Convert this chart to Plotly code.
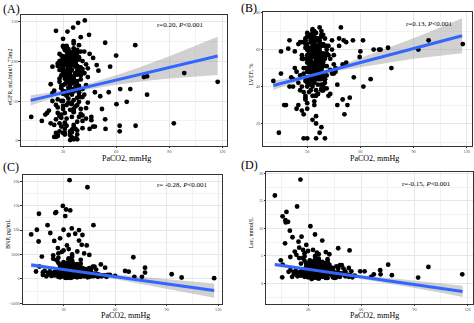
import plotly.graph_objects as go

# ---------------- DATA ----------------
# Panel A: eGFR vs PaCO2
a_x = [31,34,28,37,33,29,40,35,32,38,26,36,30,41,33,27,39,34,31,44,
       35,30,38,33,29,42,36,32,27,39,34,31,37,25,40,33,35,28,43,36,
       32,38,30,34,41,29,36,33,39,31,35,27,37,45,32,34,30,38,28,36,
       33,40,31,35,29,37,34,24,39,32,36,30,42,33,38,35,31,27,34,46,
       37,32,35,30,39,34,28,36,33,41,31,38,35,29,22,37,33,40,32,36,
       34,29,38,31,36,43,33,30,35,39,32,27,37,34,31,40,36,33,28,35,
       38,33,30,36,32,41,34,29,37,35,31,39,26,33,36,30,44,34,38,32,
       35,31,37,34,28,40,33,36,30,38,32,35,29,47,34,31,37,33,39,36,
       30,36,33,39,34,31,37,23,35,32,38,34,30,41,36,33,29,35,37,31,
       34,38,32,36,29,40,33,35,31,37,27,34,39,32,36,30,42,33,35,48,
       21,25,26,28,43,45,24,46,27,44,29,42,23,41,25,47,30,43,26,40,
       30,33,36,39,31,34,37,40,32,35,38,29,33,36,39,31,34,37,41,35,
       30,33,36,38,32,35,28,34,37,40,31,36,33,39,35,30,38,34,32,37,
       29,36,33,40,35,31,38,34,36,32,37,30,35,39,33,34,36,31,38,35,
       12,26,32.5,35.7,38.5,42.3,44.7,53.8,60,56.6,70.8,75.7,77.5,77.5,62.3,68,66,60.2,55.8,53.8,
       62,62,71,92.6,98.5,117.4,54,51,49,50,48,52,24,20,18]
a_y = [95,12,78,105,60,33,88,110,45,70,5,98,118,25,84,52,102,66,8,91,
       108,40,75,99,18,85,113,57,94,30,72,104,3,63,89,115,48,22,96,80,
       101,68,10,92,55,107,37,86,120,15,77,97,43,109,28,83,62,2,100,74,
       90,112,35,81,50,103,7,93,65,116,20,87,58,106,13,95,71,42,99,26,
       84,117,46,102,61,9,89,73,110,32,97,54,4,82,38,105,67,92,19,111,
       76,96,24,88,125,41,103,59,14,91,79,6,108,47,86,130,64,98,31,72,
       114,53,94,17,83,100,39,69,106,11,87,60,27,97,122,44,80,1,93,57,
       102,21,85,66,109,34,90,51,119,8,74,96,29,104,62,88,15,100,49,78,
       92,36,113,56,81,23,98,71,4,107,45,86,128,16,95,63,101,30,84,10,
       99,68,118,40,91,55,107,13,82,94,35,76,103,58,2,89,112,48,97,61,
       35,20,45,12,70,15,60,30,8,48,100,85,22,65,5,18,50,28,10,40,
       70,85,100,92,78,108,95,82,112,65,88,98,76,104,86,115,72,99,90,80,
       106,94,62,110,84,96,74,102,68,87,114,79,91,105,58,97,83,70,119,93,
       66,101,88,77,109,62,94,81,116,73,98,86,103,69,92,111,75,100,64,89,
       30,138,137,142,148,151,133,123,107,93,120,80,81,58,65,65,49,46,61,27,
       19,12,19,22,85,74,15,56,95,88,18,40,50,33,25]
a_band_x = [11.7, 18, 25, 35, 45, 60, 75, 90, 105, 117.4]
a_fit = [50.8, 54.1, 57.8, 63.1, 68.4, 76.3, 84.2, 92.1, 100.0, 106.5]
a_lo = [44.3, 49.0, 54.3, 60.1, 64.8, 70.3, 74.8, 78.1, 80.8, 82.5]
a_hi = [57.3, 59.2, 61.3, 66.1, 72.0, 82.3, 93.6, 106.1, 119.2, 130.5]

# Panel B: LVEF vs PaCO2
b_x = [30,34,27,38,32,29,41,35,31,37,25,36,33,40,28,34,39,31,44,36,
       33,29,37,32,42,35,30,38,27,34,31,39,36,23,33,40,29,35,32,47,
       36,31,34,28,39,33,37,30,41,35,32,26,38,34,30,43,36,33,29,37,
       32,38,35,30,36,27,40,33,31,37,34,45,29,35,38,32,36,24,33,39,
       35,30,37,33,28,41,34,31,36,32,39,29,35,38,33,49,30,36,34,27,
       37,33,31,39,35,29,36,32,42,34,30,38,33,26,35,37,31,40,34,36,
       31,36,34,29,38,33,35,30,37,32,44,34,28,36,39,33,31,35,38,30,
       34,37,32,40,30,35,33,28,38,36,31,34,39,25,33,37,35,32,46,36,
       29,35,38,33,31,36,34,41,30,37,32,35,27,39,33,36,31,34,38,50,
       22,24,43,45,26,48,21,42,23,47,44,25,41,28,46,43,20,51,22,45,
       30,33,36,39,31,34,37,40,32,35,38,29,33,36,39,31,34,37,41,35,
       30,33,36,38,32,35,28,34,37,40,31,36,33,39,35,30,38,34,32,37,
       29,36,33,40,35,31,38,34,36,32,37,30,35,39,33,34,36,31,38,35,
       10.9,14,15.2,15.2,19.3,50.6,52,55.8,60,59.6,61.5,61.7,56.3,65.8,67.5,70.5,71.4,75.6,77.5,52.7,
       54,92.7,98.5,117.8,52,17,18,20,30,35,40,33,37,48,50]
b_y = [55,62,40,68,48,35,60,52,45,65,30,58,70,42,50,63,38,55,47,60,
       45,66,52,38,57,61,28,50,64,43,55,68,36,59,47,62,33,54,66,41,
       60,48,56,25,63,51,44,67,39,58,53,46,70,32,61,49,57,42,65,54,
       50,58,35,63,47,55,66,40,52,61,30,57,45,69,38,54,60,48,22,56,
       65,42,59,53,37,62,49,56,44,68,51,34,60,46,57,72,40,55,63,27,
       47,61,54,39,66,50,58,43,62,35,57,52,45,64,20,59,48,55,67,41,
       58,36,51,64,44,60,53,31,57,48,65,42,55,62,38,50,59,46,18,61,
       52,64,41,56,48,60,35,55,67,45,58,51,40,63,47,54,24,61,50,57,
       43,59,50,66,37,55,62,46,53,15,60,48,57,41,65,52,44,69,56,33,
       40,28,55,47,38,62,45,35,50,30,60,42,58,12,48,36,65,25,44,52,
       50,56,62,46,68,53,59,44,65,49,57,61,42,66,54,48,63,58,51,45,
       60,67,52,39,64,55,47,70,50,62,43,57,66,53,38,60,49,56,68,46,
       63,51,59,44,65,54,41,61,48,57,52,69,45,58,63,50,36,55,62,47,
       43,15,59,47,60.5,65,64,65,59,56,65,40,45,44,60,60,60,61,50,30,
       34,60,65,63,53,30,30,40,12,12,12,71,72,66,52]
b_band_x = [10.9, 18, 25, 35, 45, 60, 75, 90, 105, 117.4]
b_fit = [40.6, 42.4, 44.2, 46.7, 49.2, 53.0, 56.8, 60.6, 64.4, 67.5]
b_lo = [38.1, 40.6, 42.9, 45.7, 48.2, 50.5, 52.8, 55.0, 56.8, 58.0]
b_hi = [43.1, 44.2, 45.5, 47.7, 50.2, 55.5, 60.8, 66.2, 72.0, 77.0]

# Panel C: BNP vs PaCO2
c_x = [30,34,27,38,32,29,41,35,31,37,25,36,33,40,28,34,39,31,44,36,
       33,29,37,32,42,35,30,38,27,34,31,39,36,23,33,40,29,35,32,47,
       36,31,34,28,39,33,37,30,41,35,32,26,38,34,30,43,36,33,29,37,
       32,38,35,30,36,27,40,33,31,37,34,45,29,35,38,32,36,24,33,39,
       35,30,37,33,28,41,34,31,36,32,39,29,35,38,33,49,30,36,34,27,
       37,33,31,39,35,29,36,32,42,34,30,38,33,26,35,37,31,40,34,36,
       31,36,34,29,38,33,35,30,37,32,44,34,28,36,39,33,31,35,38,30,
       22,24,43,45,26,48,21,42,23,47,44,25,41,28,46,43,20,51,22,45,
       50,52,19,46,53,48,18,55,27,40,24,44,50,42,47,21,38,54,26,49,
       28,31,34,37,40,43,30,33,36,39,42,29,32,35,38,41,44,27,46,48,
       25,31,34,37,40,33,36,30,39,35,32,38,41,29,34,36,43,45,47,50,
       11.2,14.5,15.7,15.5,17.4,20.7,22.3,24.6,25.2,25.7,26.7,28,29.6,30,31,31.5,33.5,33.9,34.8,33,
       32,39,36.8,39,40.6,43.5,43.9,47.4,41,51.7,54.2,60,65.8,67.9,70.6,71.2,75.6,77.4,77.4,92.9,
       98.7,117.6,55.7,57,16,14,18,27,30,35,38,42,45,24,33,29]
c_y = [1200,2500,600,1800,3200,900,2100,400,1500,2800,700,1900,3600,1100,2300,300,1700,2600,800,1400,
       2000,500,1600,2900,1000,2400,3400,700,1300,2200,200,1800,2700,900,1500,3100,600,2000,1200,2500,
       800,1900,3000,1400,500,2300,1100,2700,1700,400,2100,3800,1000,1600,2400,700,1900,2900,1300,600,
       2600,1200,400,2000,1500,3300,900,1800,2500,600,1400,2200,1000,3500,1700,300,2100,1200,2800,800,
       1600,2400,1000,700,2900,1300,2000,500,1700,3100,1100,2300,800,1500,4200,1900,600,2600,1400,1000,
       2200,900,1800,2700,500,1400,3000,1200,2000,700,2500,1600,4000,1000,1800,2300,400,1500,3300,1100,
       1300,2100,700,1700,2600,1000,4500,1500,600,2200,1200,1900,2800,800,1400,2400,1100,3700,500,1800,
       1500,800,2000,400,1200,2500,900,1700,600,1000,300,1400,2200,700,1900,1100,500,800,1300,600,
       900,500,1600,1200,700,1000,1300,400,4300,3900,4100,800,600,1100,500,1200,3000,700,1500,900,
       300,500,200,700,400,900,1100,300,600,1200,500,800,200,1000,300,700,1500,400,900,600,
       1300,1700,2000,400,2300,2600,1600,900,1900,300,2200,1400,800,1800,1100,2900,1200,600,1000,400,
       9100,10050,13330,7640,4550,10990,9380,7770,13460,13660,6300,8300,14940,10050,12860,14200,20200,14000,10320,8980,
       6830,9980,9230,7840,6970,6830,18760,10990,8980,2950,2280,600,1600,1470,4420,400,400,2280,1270,940,
       270,130,800,800,2500,1500,800,5200,5800,5000,5600,5200,4900,4800,6100,5500]
c_band_x = [11.2, 18, 25, 35, 45, 60, 75, 90, 105, 117.6]
c_fit = [2813, 2479, 2135, 1644, 1153, 417, -319, -1056, -1792, -2411]
c_lo = [2313, 2099, 1855, 1414, 913, -83, -1049, -2056, -3052, -3881]
c_hi = [3313, 2859, 2415, 1874, 1393, 917, 411, -56, -532, -941]

# Panel D: Lac vs PaCO2
d_x = [31,35,28,39,33,30,42,36,32,38,26,37,34,41,29,35,40,32,45,37,
       34,30,38,33,43,36,31,39,28,35,32,40,37,24,34,41,30,36,33,48,
       37,32,35,29,40,34,38,31,42,36,33,27,39,35,31,44,37,34,30,38,
       33,39,36,31,37,28,41,34,32,38,35,46,30,36,39,33,37,25,34,40,
       36,31,38,34,29,42,35,32,37,33,40,30,36,39,34,50,31,37,35,28,
       38,34,32,40,36,30,37,33,43,35,31,39,34,27,36,38,32,41,35,37,
       32,37,35,30,39,34,36,31,38,33,45,35,29,37,40,34,32,36,39,31,
       23,25,44,46,27,49,22,43,24,48,45,26,42,29,47,44,21,52,23,46,
       51,53,20,47,54,49,19,55,28,41,25,45,51,43,48,22,39,53,27,50,
       29,32,35,38,41,44,31,34,37,40,43,30,33,36,39,42,45,28,47,49,
       26,32,35,38,41,34,37,31,40,36,33,39,42,30,35,37,44,46,48,51,
       11.25,25.7,14.6,15.7,15.4,15.6,17.2,17.8,18.7,17.4,19.7,21.2,17,24.6,23.8,26.3,31.3,33.9,38,22.5,
       23.4,27.2,32.8,47,53.4,53,54.4,59.4,61.9,56.3,65.6,67.1,70.7,70.9,75.2,77.3,92.1,97.9,117,28,
       30,35,40,25,29,42,20]
d_y = [2.1,3.4,1.2,2.8,4.0,1.6,3.0,0.9,2.4,3.7,1.4,2.6,4.4,1.9,3.1,1.0,2.3,3.5,1.5,2.0,
       2.9,1.1,2.5,3.8,1.7,3.2,4.2,1.3,2.2,3.0,0.8,2.7,3.6,1.8,2.4,4.0,1.2,2.9,2.0,3.3,
       1.5,2.8,3.9,2.2,1.0,3.1,1.9,3.5,2.6,0.9,3.0,4.6,1.7,2.5,3.3,1.4,2.7,3.8,2.1,1.3,
       3.4,2.0,1.1,2.9,2.3,4.1,1.6,2.6,3.3,1.2,2.2,3.1,1.8,4.3,2.5,1.0,3.0,2.0,3.6,1.5,
       2.4,3.2,1.8,1.4,3.7,2.1,2.8,1.1,2.5,3.9,1.9,3.1,1.5,2.3,5.0,2.7,1.3,3.4,2.2,1.7,
       3.0,1.6,2.6,3.5,1.2,2.2,3.8,2.0,2.8,1.4,3.3,2.4,4.8,1.8,2.6,3.1,1.1,2.3,4.0,1.9,
       2.1,2.9,1.4,2.5,3.4,1.8,5.3,2.3,1.3,3.0,2.0,2.7,3.6,1.6,2.2,3.2,1.9,4.5,1.2,2.6,
       2.3,1.5,2.8,1.1,2.0,3.3,1.7,2.5,1.3,1.8,1.0,2.2,3.0,1.4,2.7,1.9,1.2,1.6,2.1,1.3,
       1.7,1.2,2.4,2.0,1.4,1.8,2.1,1.1,4.9,4.4,4.6,1.6,1.3,1.9,1.2,2.0,3.7,1.5,2.3,1.7,
       1.3,1.0,2.0,1.5,2.6,1.1,1.8,2.4,1.2,3.2,1.6,2.9,1.4,2.2,3.0,1.9,1.3,2.5,2.0,1.7,
       3.6,1.1,2.8,3.9,1.0,3.3,1.5,2.6,2.3,4.1,1.9,2.7,3.4,2.0,1.2,2.1,2.5,1.6,1.4,2.2,
       16.0,18.9,4.2,3.4,1.1,12.2,11.5,13.0,11.2,11.1,9.6,8.4,7.3,7.6,14.0,8.5,10.4,8.9,7.8,5.8,
       5.2,6.1,6.1,6.4,6.0,2.8,2.2,2.2,2.2,1.4,1.2,1.65,2.4,1.65,3.4,1.5,1.06,3.0,1.65,5.5,
       5.9,5.6,5.7,6.5,7.0,5.3,4.8]
d_band_x = [11.25, 18, 25, 35, 45, 60, 75, 90, 105, 117.2]
d_fit = [3.42, 3.11, 2.79, 2.33, 1.87, 1.18, 0.49, -0.21, -0.90, -1.47]
d_lo = [3.02, 2.82, 2.59, 2.16, 1.70, 0.83, -0.04, -0.86, -1.70, -2.50]
d_hi = [3.82, 3.40, 2.99, 2.50, 2.04, 1.53, 1.02, 0.44, -0.10, -0.44]

panels = [
    dict(label="(A)", x=a_x, y=a_y, bx=a_band_x, fit=a_fit, lo=a_lo, hi=a_hi,
         ytitle="eGFR, mL/min/1.73m2", stat="r=0.20, <i>P</i><0.001",
         yticks=[0, 50, 100, 150], yrange=[-6, 158], ydt=50),
    dict(label="(B)", x=b_x, y=b_y, bx=b_band_x, fit=b_fit, lo=b_lo, hi=b_hi,
         ytitle="LVEF, %", stat="r=0.13, <i>P</i><0.001",
         yticks=[20, 40, 60, 80], yrange=[8, 80.4], ydt=20),
    dict(label="(C)", x=c_x, y=c_y, bx=c_band_x, fit=c_fit, lo=c_lo, hi=c_hi,
         ytitle="BNP, pg/mL", stat="r= -0.28, <i>P</i><0.001",
         yticks=[-5000, 0, 5000, 10000, 15000, 20000], yrange=[-5100, 21300], ydt=5000),
    dict(label="(D)", x=d_x, y=d_y, bx=d_band_x, fit=d_fit, lo=d_lo, hi=d_hi,
         ytitle="Lac, mmol/L", stat="r=-0.15, <i>P</i><0.001",
         yticks=[0, 5, 10, 15, 20], yrange=[-3.7, 20.3], ydt=5),
]
x_ticks = [30, 60, 90, 120]
x_title = "PaCO2, mmHg"

# ---------------- LAYOUT (pixels) ----------------
W, H = 474, 323
boxes = [  # left, right, top, bottom
    (21, 227, 13, 145.5),
    (264, 473, 10, 145.5),
    (23, 222, 175, 305.5),
    (267, 473.7, 172, 305.5),
]
xranges = [[6.2, 122.4], [5.3, 123], [6.4, 121.9], [6.5, 122.9]]
label_pos = [(1, 7), (240, 6), (1, 167), (240, 165)]
xt_pos = [(127, 158), (375, 158), (126, 317.5), (375, 317.5)]
yt_pos = [(10, 75), (252, 73), (8, 235), (252, 233)]
st_pos = [(181, 23), (430, 22), (183, 185), (427, 184)]

FONT = "Liberation Serif, Times New Roman, serif"
fig = go.Figure()
annotations = []
for i, p in enumerate(panels):
    k = "" if i == 0 else str(i + 1)
    xa, ya = "x" + k, "y" + k
    L, R, T, B = boxes[i]
    fig.add_trace(go.Scatter(x=p["bx"] + p["bx"][::-1], y=p["hi"] + p["lo"][::-1],
                             fill="toself", fillcolor="rgba(153,153,153,0.45)",
                             line=dict(width=0), mode="lines",
                             xaxis=xa, yaxis=ya, showlegend=False, hoverinfo="skip"))
    fig.add_trace(go.Scatter(x=p["x"], y=p["y"], mode="markers", xaxis=xa, yaxis=ya,
                             marker=dict(color="black", size=4.8, line=dict(width=0)),
                             showlegend=False, hoverinfo="skip"))
    fig.add_trace(go.Scatter(x=p["bx"], y=p["fit"], mode="lines", xaxis=xa, yaxis=ya,
                             line=dict(color="#3366FF", width=3), showlegend=False,
                             hoverinfo="skip"))
    common = dict(showline=True, linecolor="#333333", linewidth=1, mirror=True,
                  showgrid=True, gridcolor="#E6E6E6", gridwidth=0.8,
                  ticks="outside", ticklen=1.5, tickcolor="#333333", tickwidth=1,
                  tickfont=dict(family=FONT, size=4.2, color="#4D4D4D"),
                  zeroline=False)
    fig.update_layout(**{
        ("xaxis" + k): dict(domain=[L / W, R / W], range=xranges[i], anchor=ya,
                            tickvals=x_ticks,
                            minor=dict(dtick=15, tick0=0, showgrid=True,
                                       gridcolor="#F2F2F2", gridwidth=0.6, ticks=""),
                            **common),
        ("yaxis" + k): dict(domain=[1 - B / H, 1 - T / H], range=p["yrange"], anchor=xa,
                            tickvals=p["yticks"],
                            minor=dict(dtick=p["ydt"] / 2, tick0=0, showgrid=True,
                                       gridcolor="#F2F2F2", gridwidth=0.6, ticks=""),
                            **common),
    })
    lx, ly = label_pos[i]
    annotations.append(dict(text=p["label"], x=lx / W, y=1 - ly / H, xref="paper",
                            yref="paper", xanchor="left", yanchor="middle", showarrow=False,
                            font=dict(family=FONT, size=12, color="black")))
    tx, ty = xt_pos[i]
    annotations.append(dict(text=x_title, x=tx / W, y=1 - ty / H, xref="paper",
                            yref="paper", xanchor="center", yanchor="middle", showarrow=False,
                            borderpad=0,
                            font=dict(family=FONT, size=8, color="black")))
    yx, yy = yt_pos[i]
    annotations.append(dict(text=p["ytitle"], x=yx / W, y=1 - yy / H, xref="paper",
                            yref="paper", xanchor="center", yanchor="middle", showarrow=False,
                            textangle=-90,
                            font=dict(family=FONT, size=6, color="black")))
    sx, sy = st_pos[i]
    annotations.append(dict(text=p["stat"], x=sx / W, y=1 - sy / H, xref="paper",
                            yref="paper", xanchor="center", yanchor="middle", showarrow=False,
                            font=dict(family=FONT, size=7, color="black")))

fig.update_layout(width=W, height=H, margin=dict(l=0, r=0, t=0, b=0),
                  paper_bgcolor="white", plot_bgcolor="white",
                  annotations=annotations, showlegend=False)
fig.write_html("out.html")
